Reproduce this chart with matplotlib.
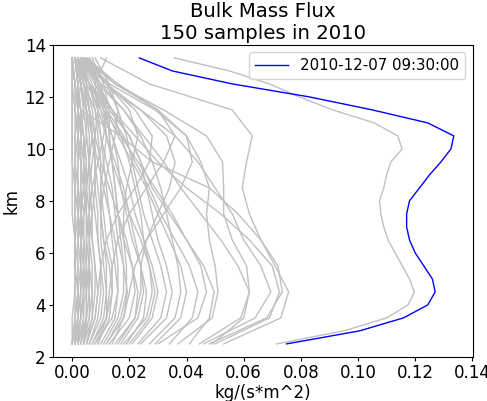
import matplotlib
matplotlib.use("Agg")
import matplotlib.pyplot as plt
import numpy as np

plt.rcParams['font.family'] = ['DejaVu Sans']
plt.rcParams['font.size'] = 12
plt.rcParams['xtick.major.size'] = 3.0
plt.rcParams['ytick.major.size'] = 3.0
plt.rcParams['xtick.major.pad'] = 2.2
plt.rcParams['ytick.major.pad'] = 2.2

# Height levels (km)
heights_fine = [2.5, 3.0, 3.5, 4.0, 4.5, 5.0, 5.5, 6.0, 6.5, 7.0, 7.5, 8.0,
                8.5, 9.0, 9.5, 10.0, 10.5, 11.0, 11.5, 12.0, 12.5, 13.0, 13.5]
heights_coarse = [2.5, 3.5, 4.5, 5.5, 6.5, 7.5, 8.5, 9.5, 10.5, 11.5, 12.5, 13.5]

# Highlighted sample
highlight_label = "2010-12-07 09:30:00"
highlight_flux = [0.075, 0.1005, 0.1159, 0.1244, 0.127, 0.126, 0.123, 0.120,
                  0.118, 0.117, 0.117, 0.118, 0.1215, 0.125, 0.129, 0.1325,
                  0.1335, 0.1244, 0.105, 0.083, 0.056, 0.035, 0.0235]

# Strongest of the remaining samples (fine levels)
strong_flux = [0.0715, 0.095, 0.110, 0.1175, 0.1197, 0.118, 0.1155, 0.113,
               0.1105, 0.109, 0.108, 0.1075, 0.109, 0.110, 0.1115, 0.1154,
               0.1139, 0.1057, 0.0911, 0.0795, 0.069, 0.055, 0.0357]

# Other samples (coarse levels)
gray_profiles = [
    [0.053, 0.073, 0.0757, 0.071, 0.066, 0.062, 0.0595, 0.061, 0.063, 0.056, 0.027, 0.010],
    [0.048, 0.068, 0.0735, 0.072, 0.066, 0.058, 0.048, 0.028, 0.017, 0.003, 0.001, 0.000],
    [0.0445, 0.059, 0.062, 0.061, 0.056, 0.053, 0.053, 0.0526, 0.047, 0.032, 0.015, 0.005],
    [0.037, 0.049, 0.051, 0.050, 0.048, 0.047, 0.048, 0.045, 0.040, 0.029, 0.013, 0.004],
    [0.050, 0.069, 0.0725, 0.070, 0.062, 0.052, 0.040, 0.030, 0.022, 0.014, 0.006, 0.002],
    [0.046, 0.064, 0.0695, 0.066, 0.060, 0.056, 0.050, 0.044, 0.036, 0.024, 0.010, 0.003],
    [0.034, 0.042, 0.044, 0.041, 0.036, 0.031, 0.027, 0.022, 0.018, 0.012, 0.006, 0.002],
    [0.041, 0.048, 0.0497, 0.046, 0.040, 0.034, 0.028, 0.024, 0.020, 0.014, 0.008, 0.003],
    [0.049, 0.060, 0.062, 0.058, 0.052, 0.045, 0.038, 0.032, 0.025, 0.018, 0.009, 0.003],
    [0.024, 0.033, 0.035, 0.033, 0.030, 0.028, 0.026, 0.024, 0.020, 0.013, 0.006, 0.002],
    [0.021, 0.028, 0.030, 0.028, 0.025, 0.022, 0.020, 0.017, 0.014, 0.010, 0.005, 0.001],
    [0.019, 0.025, 0.026, 0.024, 0.021, 0.019, 0.017, 0.016, 0.014, 0.011, 0.006, 0.002],
    [0.014, 0.018, 0.0193, 0.018, 0.016, 0.015, 0.014, 0.012, 0.010, 0.008, 0.004, 0.001],
    [0.010, 0.015, 0.016, 0.015, 0.014, 0.013, 0.012, 0.011, 0.010, 0.009, 0.006, 0.002],
    [0.006, 0.009, 0.010, 0.010, 0.009, 0.009, 0.008, 0.008, 0.007, 0.006, 0.004, 0.001],
    [0.008, 0.012, 0.013, 0.014, 0.016, 0.020, 0.026, 0.032, 0.036, 0.030, 0.016, 0.005],
    [0.012, 0.018, 0.020, 0.022, 0.026, 0.032, 0.038, 0.042, 0.040, 0.030, 0.015, 0.004],
    [0.005, 0.008, 0.009, 0.010, 0.012, 0.016, 0.022, 0.027, 0.028, 0.022, 0.012, 0.003],
    [0.016, 0.022, 0.024, 0.024, 0.026, 0.030, 0.034, 0.036, 0.033, 0.024, 0.012, 0.004],
    [0.029, 0.038, 0.040, 0.038, 0.034, 0.030, 0.026, 0.021, 0.016, 0.012, 0.008, 0.012],
    [0.027, 0.036, 0.038, 0.037, 0.035, 0.033, 0.031, 0.028, 0.024, 0.018, 0.010, 0.004],
    [0.017, 0.023, 0.025, 0.024, 0.022, 0.020, 0.018, 0.015, 0.012, 0.009, 0.006, 0.003],
    [0.013, 0.020, 0.022, 0.021, 0.019, 0.016, 0.013, 0.010, 0.008, 0.006, 0.004, 0.002],
    [0.011, 0.016, 0.018, 0.018, 0.017, 0.016, 0.015, 0.014, 0.013, 0.012, 0.009, 0.004],
    [0.009, 0.013, 0.014, 0.013, 0.011, 0.010, 0.009, 0.008, 0.008, 0.007, 0.005, 0.002],
    [0.007, 0.011, 0.012, 0.012, 0.011, 0.010, 0.010, 0.011, 0.012, 0.011, 0.009, 0.006],
    [0.004, 0.007, 0.008, 0.008, 0.007, 0.007, 0.006, 0.006, 0.005, 0.005, 0.003, 0.001],
    [0.003, 0.006, 0.007, 0.007, 0.006, 0.006, 0.006, 0.007, 0.008, 0.009, 0.008, 0.004],
    [0.005, 0.008, 0.009, 0.008, 0.007, 0.006, 0.005, 0.004, 0.004, 0.003, 0.002, 0.001],
    [0.002, 0.005, 0.006, 0.006, 0.005, 0.005, 0.004, 0.004, 0.003, 0.003, 0.002, 0.001],
    [0.002, 0.004, 0.004, 0.005, 0.005, 0.006, 0.007, 0.009, 0.011, 0.012, 0.010, 0.005],
    [0.001, 0.003, 0.004, 0.004, 0.004, 0.003, 0.003, 0.003, 0.002, 0.002, 0.001, 0.000],
    [0.001, 0.002, 0.003, 0.003, 0.003, 0.004, 0.005, 0.006, 0.007, 0.006, 0.004, 0.002],
    [0.000, 0.002, 0.002, 0.002, 0.002, 0.002, 0.002, 0.002, 0.002, 0.002, 0.001, 0.000],
    [0.001, 0.001, 0.002, 0.002, 0.001, 0.001, 0.001, 0.001, 0.001, 0.001, 0.000, 0.000],
    [0.000, 0.001, 0.001, 0.001, 0.001, 0.001, 0.001, 0.000, 0.000, 0.000, 0.000, 0.000],
    [0.003, 0.005, 0.005, 0.004, 0.004, 0.004, 0.003, 0.003, 0.003, 0.004, 0.005, 0.003],
    [0.004, 0.006, 0.006, 0.005, 0.005, 0.005, 0.005, 0.006, 0.006, 0.005, 0.003, 0.001],
    [0.006, 0.010, 0.011, 0.010, 0.009, 0.008, 0.007, 0.006, 0.005, 0.004, 0.003, 0.002],
    [0.008, 0.014, 0.016, 0.016, 0.015, 0.013, 0.011, 0.009, 0.007, 0.006, 0.005, 0.003],
    [0.002, 0.003, 0.003, 0.003, 0.003, 0.003, 0.004, 0.004, 0.005, 0.005, 0.004, 0.002],
    [0.000, 0.000, 0.001, 0.001, 0.001, 0.000, 0.000, 0.000, 0.000, 0.000, 0.000, 0.000],
    [0.012, 0.017, 0.019, 0.019, 0.018, 0.018, 0.019, 0.021, 0.023, 0.020, 0.012, 0.005],
    [0.020, 0.027, 0.029, 0.027, 0.024, 0.020, 0.017, 0.014, 0.013, 0.013, 0.011, 0.007],
    [0.030, 0.044, 0.047, 0.045, 0.040, 0.035, 0.029, 0.023, 0.017, 0.011, 0.006, 0.002],
    [0.000, 0.001, 0.002, 0.003, 0.003, 0.002, 0.001, 0.001, 0.002, 0.003, 0.002, 0.001],
    [0.001, 0.002, 0.002, 0.001, 0.001, 0.002, 0.003, 0.003, 0.002, 0.001, 0.001, 0.000],
    [0.002, 0.003, 0.004, 0.004, 0.003, 0.002, 0.002, 0.002, 0.003, 0.004, 0.003, 0.001],
    [0.003, 0.004, 0.004, 0.003, 0.002, 0.003, 0.004, 0.005, 0.004, 0.003, 0.002, 0.001],
    [0.001, 0.003, 0.005, 0.005, 0.004, 0.004, 0.005, 0.005, 0.004, 0.002, 0.001, 0.000],
    [0.002, 0.002, 0.003, 0.004, 0.004, 0.003, 0.002, 0.001, 0.001, 0.002, 0.003, 0.002],
    [0.004, 0.005, 0.005, 0.006, 0.006, 0.005, 0.004, 0.003, 0.003, 0.002, 0.002, 0.001],
    [0.005, 0.007, 0.007, 0.006, 0.006, 0.007, 0.008, 0.008, 0.007, 0.005, 0.003, 0.001],
    [0.007, 0.012, 0.014, 0.014, 0.012, 0.011, 0.010, 0.010, 0.009, 0.008, 0.006, 0.003],
    [0.015, 0.022, 0.023, 0.021, 0.018, 0.016, 0.015, 0.014, 0.012, 0.010, 0.007, 0.003],
    [0.018, 0.026, 0.028, 0.027, 0.025, 0.024, 0.022, 0.020, 0.017, 0.014, 0.009, 0.004],
    [0.009, 0.012, 0.012, 0.011, 0.010, 0.010, 0.011, 0.013, 0.015, 0.016, 0.013, 0.008],
    [0.023, 0.031, 0.033, 0.031, 0.028, 0.025, 0.023, 0.021, 0.019, 0.016, 0.012, 0.006],
]

fig = plt.figure(figsize=(4.87, 4.01), dpi=100)
ax = fig.add_axes([0.109, 0.110, 0.862, 0.778])

for prof in gray_profiles:
    ax.plot(prof, heights_coarse, color='#c0c0c0', lw=1.0, zorder=1)
ax.plot(strong_flux, heights_fine, color='#c0c0c0', lw=1.0, zorder=1)
ax.plot(highlight_flux, heights_fine, color='blue', lw=1.0, zorder=2,
        label=highlight_label)

ax.set_ylim(2, 14)
ax.set_xticks([0.00, 0.02, 0.04, 0.06, 0.08, 0.10, 0.12, 0.14])
ax.set_xlabel("kg/(s*m^2)", labelpad=1)
ax.set_ylabel("km", labelpad=3)
ax.set_title("Bulk Mass Flux\n150 samples in 2010", fontsize=14.2, pad=4)
ax.legend(loc='upper right', fontsize=10.8, handlelength=2.2)

fig.savefig("out.png", dpi=100)
